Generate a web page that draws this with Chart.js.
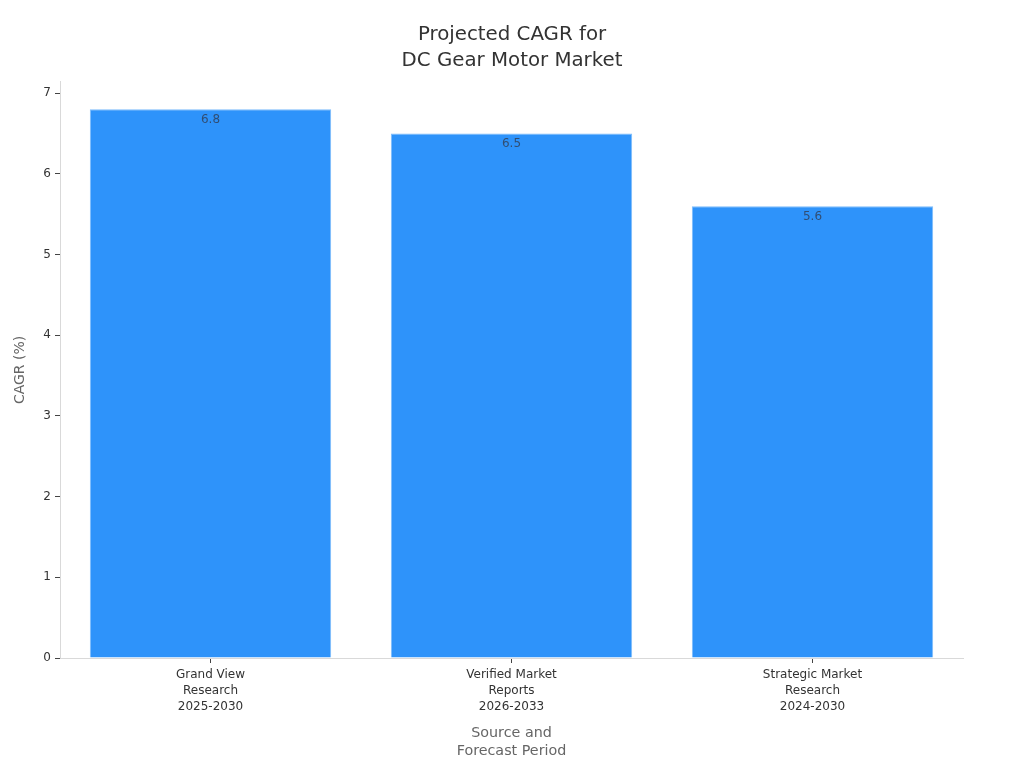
<!DOCTYPE html>
<html>
<head>
<meta charset="utf-8">
<style>
html, body { margin: 0; padding: 0; background: #fff; }
canvas { display: block; }
</style>
<script src="https://cdn.jsdelivr.net/npm/chart.js@4"></script>
</head>
<body>
<canvas id="myChart" width="1024" height="768"></canvas>
<script>
const categories = [
    ["Grand View", "Research", "2025-2030"],
    ["Verified Market", "Reports", "2026-2033"],
    ["Strategic Market", "Research", "2024-2030"],
];
const cagrValues = [6.8, 6.5, 5.6];
const titleLines = ["Projected CAGR for", "DC Gear Motor Market"];
const yAxisTitle = "CAGR (%)";
const xAxisTitle = ["Source and", "Forecast Period"];

const fontName = "'DejaVu Sans', sans-serif";

// value printed just under the top of each bar
const barLabels = {
    id: "barLabels",
    afterDatasetsDraw(chart) {
        const ctx = chart.ctx;
        ctx.save();
        ctx.font = "12px " + fontName;
        ctx.fillStyle = "rgba(50,60,80,0.8)";
        ctx.textAlign = "center";
        ctx.textBaseline = "middle";
        chart.getDatasetMeta(0).data.forEach((bar, i) => {
            ctx.fillText(cagrValues[i].toFixed(1), bar.x, bar.y + 10.5);
        });
        ctx.restore();
    },
};

// title is centred on the whole page, not on the padded box
const centerTitle = {
    id: "centerTitle",
    afterLayout(chart) {
        chart.titleBlock.left = 0;
        chart.titleBlock.right = chart.width;
    },
};

const ctx = document.getElementById("myChart").getContext("2d");
const myChart = new Chart(ctx, {
    type: "bar",
    data: {
        labels: categories,
        datasets: [
            {
                data: cagrValues,
                backgroundColor: "#2e93fa",
                borderColor: "#7dbcfb",
                borderWidth: 1,
                barPercentage: 0.802,
                categoryPercentage: 1,
            },
        ],
    },
    options: {
        responsive: false,
        animation: false,
        layout: { padding: { top: 22, right: 61, left: 0, bottom: 0 } },
        plugins: {
            legend: { display: false },
            tooltip: { enabled: false },
            title: {
                display: true,
                text: titleLines,
                color: "#333333",
                font: { family: fontName, size: 19.8, weight: "normal", lineHeight: 1.31 },
                padding: { top: 0, bottom: 8 },
            },
        },
        scales: {
            x: {
                afterFit: (scale) => { scale.height = 110; },
                border: { color: "#d9d9d9" },
                grid: { drawOnChartArea: false, offset: false, tickColor: "#444444", tickLength: 5 },
                ticks: {
                    color: "#333333",
                    font: { family: fontName, size: 12, lineHeight: 1.33 },
                    maxRotation: 0,
                    padding: 4,
                },
                title: {
                    display: true,
                    text: xAxisTitle,
                    color: "#666666",
                    font: { family: fontName, size: 14.3, lineHeight: 1.24 },
                    padding: { top: 8, bottom: 8 },
                },
            },
            y: {
                min: 0,
                max: 7.14,
                afterFit: (scale) => { scale.width = 60; },
                border: { color: "#d9d9d9" },
                grid: { drawOnChartArea: false, tickColor: "#444444", tickLength: 5 },
                ticks: {
                    stepSize: 1,
                    includeBounds: false,
                    color: "#333333",
                    font: { family: fontName, size: 12 },
                    padding: 4,
                },
                title: {
                    display: true,
                    text: yAxisTitle,
                    color: "#666666",
                    font: { family: fontName, size: 14 },
                    padding: { top: 12, bottom: 0 },
                },
            },
        },
    },
    plugins: [barLabels, centerTitle],
});
</script>
</body>
</html>
